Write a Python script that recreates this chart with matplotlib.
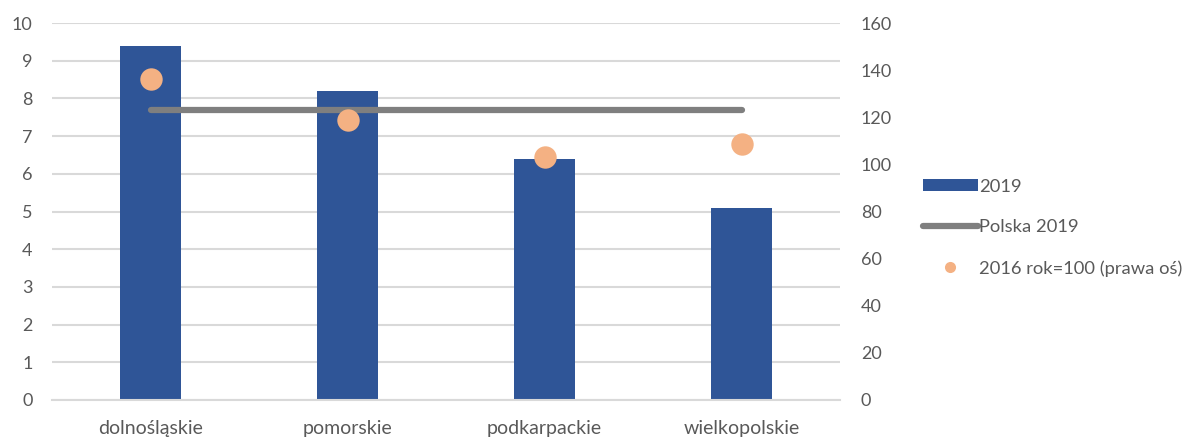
import matplotlib.pyplot as plt
from matplotlib.patches import Patch
from matplotlib.lines import Line2D
import numpy as np

plt.rcParams['font.family'] = ['Lato', 'DejaVu Sans']

regions = ["dolnośląskie", "pomorskie", "podkarpackie", "wielkopolskie"]
val_2019 = [9.4, 8.2, 6.4, 5.1]
polska_2019 = [7.7, 7.7, 7.7, 7.7]
idx_2016 = [136.3, 118.8, 103.3, 108.5]

bar_col = "#2F5597"
line_col = "#7F7F7F"
dot_col = "#F4B183"
txt_col = "#595959"
grid_col = "#D9D9D9"

fig = plt.figure(figsize=(11.95, 4.37), dpi=100)
ax = fig.add_axes([52/1195, 1-400/437, 788/1195, 377/437])
ax2 = ax.twinx()

x = np.arange(len(regions))
ax.bar(x, val_2019, width=0.31, color=bar_col, zorder=2)
ax.plot(x, polska_2019, color=line_col, lw=4.5, solid_capstyle='round', zorder=3)
ax2.scatter(x, idx_2016, s=260, color=dot_col, zorder=4, linewidths=0)

ax.set_xlim(-0.5, 3.5)
ax.set_ylim(0, 10)
ax.set_yticks(range(0, 11))
ax2.set_ylim(0, 160)
ax2.set_yticks(range(0, 161, 20))
ax.set_xticks(x)
ax.set_xticklabels(regions)

ax.yaxis.grid(True, color=grid_col, lw=1.5, zorder=0)
ax.set_axisbelow(True)
ax.set_zorder(ax2.get_zorder() - 1)
ax.patch.set_visible(False)
ax2.patch.set_visible(False)

for a in (ax, ax2):
    for s in a.spines.values():
        s.set_visible(False)
    a.tick_params(length=0, labelsize=13, labelcolor=txt_col)
ax.spines['bottom'].set_visible(True)
ax.spines['bottom'].set_color(grid_col)
ax.spines['bottom'].set_linewidth(1.5)
ax.tick_params(axis='x', labelsize=14, pad=14.5)
ax.tick_params(axis='y', pad=14)
ax2.tick_params(axis='y', pad=15)

handles = [
    Patch(facecolor=bar_col, edgecolor='none'),
    Line2D([0], [0], color=line_col, lw=4.5, solid_capstyle='round'),
    Line2D([0], [0], marker='o', color='none', markerfacecolor=dot_col,
           markeredgecolor='none', markersize=8),
]
labels = ["2019", "Polska 2019", "2016 rok=100 (prawa oś)"]
fig.legend(handles, labels, loc='upper left', bbox_to_anchor=(906/1195, 1-162/437),
           frameon=False, fontsize=13.2, labelcolor=txt_col, handlelength=3.0,
           handleheight=0.6, handletextpad=0.1, labelspacing=1.35)

fig.savefig("out.png", dpi=100)
